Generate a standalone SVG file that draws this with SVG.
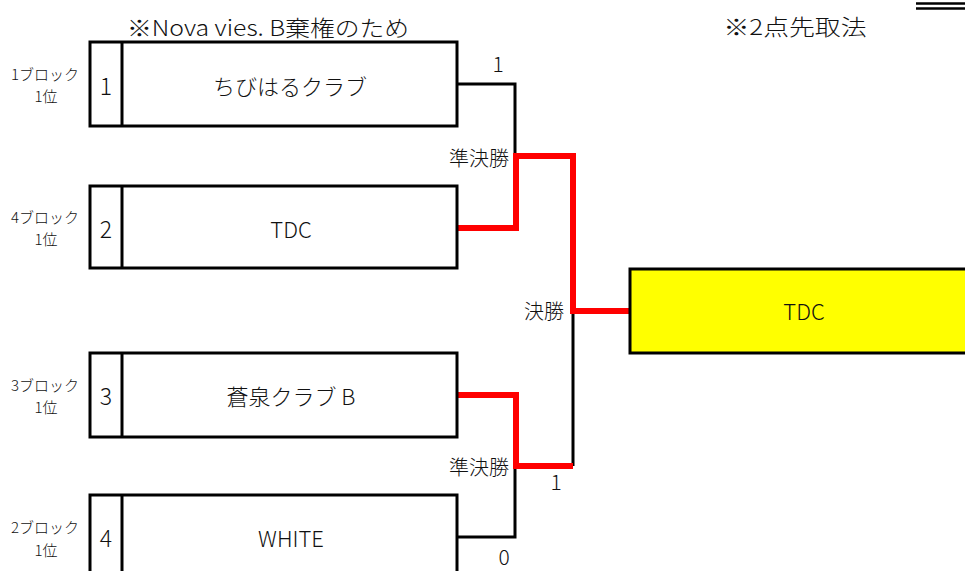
<svg xmlns="http://www.w3.org/2000/svg" width="965" height="571" viewBox="0 0 965 571">
<style>
text{font-family:"Noto Sans CJK JP","Noto Sans",sans-serif;font-weight:300;fill:#111;dominant-baseline:central;text-anchor:middle}
.box{fill:#fff;stroke:#000;stroke-width:3}
.div{stroke:#000;stroke-width:3}
.team{font-size:22px}
.num{font-size:23px}
.lab{font-size:15px}
.note{font-size:22px}
.rd{font-size:20px}
.sc{font-size:21px}
.blk{fill:none;stroke:#000;stroke-width:3}
.red{fill:none;stroke:#f00;stroke-width:6}
</style>
<rect width="965" height="571" fill="#fff"/>
<g id="notes">
<text class="note" x="268" y="26" textLength="282" lengthAdjust="spacingAndGlyphs">※Nova vies. B棄権のため</text>
<text class="note" x="795" y="25" textLength="143" lengthAdjust="spacingAndGlyphs">※2点先取法</text>
<line x1="916" y1="3.5" x2="965" y2="3.5" stroke="#000" stroke-width="2.5"/>
<line x1="916" y1="8.5" x2="965" y2="8.5" stroke="#000" stroke-width="2.5"/>
</g>
<g id="connectors">
<path class="blk" d="M457,84 H515 V156"/>
<path class="blk" d="M573,311 V466"/>
<path class="blk" d="M457,537 H515 V466"/>
<path class="red" d="M457,228 H516 V156 H573 V311 H629"/>
<path class="red" d="M457,395 H516 V466 H573"/>
</g>
<g id="labels">
<text class="sc" x="498" y="63">1</text>
<text class="rd" x="479" y="157">準決勝</text>
<text class="rd" x="544" y="310">決勝</text>
<text class="rd" x="479" y="466">準決勝</text>
<text class="sc" x="556" y="481">1</text>
<text class="sc" x="504" y="556" font-size="20">0</text>
</g>
<g id="team1">
<text class="lab" x="45" y="73">1ブロック</text>
<text class="lab" x="46" y="95">1位</text>
<rect class="box" x="90" y="42" width="367" height="84"/>
<line class="div" x1="122" y1="42" x2="122" y2="126"/>
<text class="num" x="106" y="85">1</text>
<text class="team" x="290" y="85">ちびはるクラブ</text>
</g>
<g id="team2">
<text class="lab" x="45" y="216">4ブロック</text>
<text class="lab" x="46" y="238">1位</text>
<rect class="box" x="90" y="186" width="367" height="82"/>
<line class="div" x1="122" y1="186" x2="122" y2="268"/>
<text class="num" x="106" y="228">2</text>
<text class="team" x="291" y="228">TDC</text>
</g>
<g id="team3">
<text class="lab" x="45" y="384">3ブロック</text>
<text class="lab" x="46" y="406">1位</text>
<rect class="box" x="90" y="353" width="367" height="84"/>
<line class="div" x1="122" y1="353" x2="122" y2="437"/>
<text class="num" x="106" y="395">3</text>
<text class="team" x="291" y="395">蒼泉クラブ B</text>
</g>
<g id="team4">
<text class="lab" x="45" y="526">2ブロック</text>
<text class="lab" x="46" y="549">1位</text>
<rect class="box" x="90" y="495" width="367" height="84"/>
<line class="div" x1="122" y1="495" x2="122" y2="579"/>
<text class="num" x="106" y="537">4</text>
<text class="team" x="291" y="537">WHITE</text>
</g>
<g id="winner">
<rect x="630" y="269" width="345" height="84" fill="#ff0" stroke="#000" stroke-width="3"/>
<text class="team" x="804" y="310">TDC</text>
</g>
</svg>
